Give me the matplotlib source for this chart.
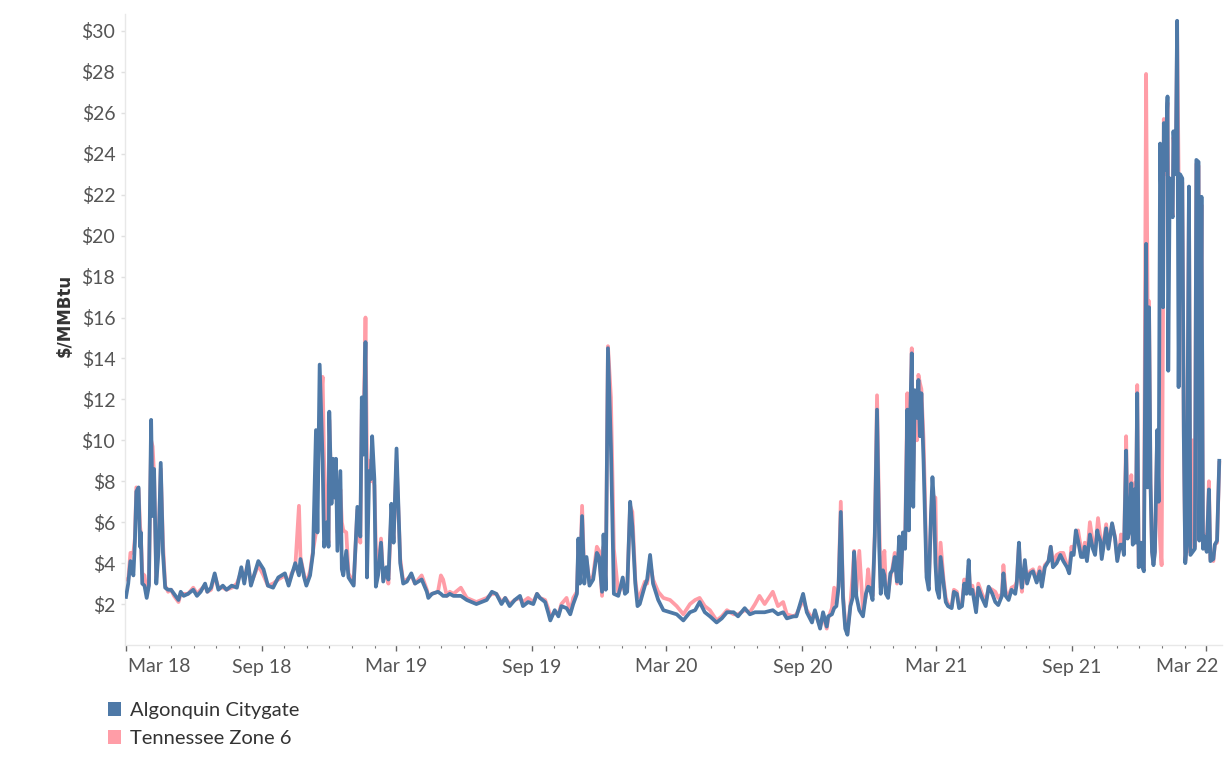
import matplotlib
matplotlib.use("Agg")
import matplotlib.pyplot as plt
import matplotlib.dates as mdates
import matplotlib.transforms as mtransforms
from matplotlib.patches import Patch
import pandas as pd

plt.rcParams["font.family"] = ["Lato", "DejaVu Sans"]

start_date = pd.Timestamp("2018-03-01")

# daily gas prices ($/MMBtu), days counted from 1 Mar 2018
days_since_start = [
    0, 3, 6, 10, 12, 14, 17, 19, 20, 22, 25, 28, 31, 34, 36, 38, 41, 44, 47, 50,
    53, 57, 61, 65, 69, 71, 74, 78, 84, 91, 96, 101, 107, 110, 115, 120, 125, 131, 136, 143,
    150, 156, 160, 165, 169,
    179, 186, 192, 199, 206, 215, 220, 224, 229, 234, 236, 241, 244, 249, 253,
    257, 259, 262, 266, 268, 272, 274, 275, 278, 280, 283, 284, 286, 290, 292,
    294, 298, 301, 308, 313, 317, 319, 321, 324, 326, 329, 331, 333, 336, 338,
    341, 345, 348, 352, 355, 359, 362, 366, 371, 375, 380, 386, 391, 400, 407,
    409, 414, 422, 426, 429, 434, 438,
    443, 453, 461, 474, 488, 495, 501, 508, 513, 519, 526, 533, 537, 544, 551,
    556, 560, 567, 571, 574, 580, 585, 589, 596, 601, 605, 610, 612, 614, 617,
    620, 623, 627, 632, 637, 640, 644, 646, 649, 652, 656, 660, 666, 672, 675,
    678, 682, 685, 689, 692, 695, 702, 705, 709, 713, 720,
    727, 736, 745, 754, 763, 770, 776, 783, 790, 799, 806, 813, 822, 828, 837,
    844, 851, 857, 864, 875, 882, 889, 894, 903, 907, 916, 921, 928, 932, 939,
    943, 948,
    950, 955, 958, 961, 964, 967, 970, 973, 976, 980, 983, 985, 988, 992, 997,
    1001, 1004, 1006, 1010, 1013, 1016, 1019, 1021, 1024, 1026, 1028, 1031, 1034, 1037, 1040,
    1043, 1046, 1048, 1051, 1054, 1057, 1059, 1061, 1063, 1065, 1067, 1070, 1072, 1074, 1076,
    1079, 1081, 1083, 1086, 1089, 1091, 1093, 1095, 1097, 1100, 1102, 1106, 1109, 1112, 1117,
    1120, 1124, 1127, 1131, 1134, 1137, 1140, 1142, 1145, 1150, 1153, 1158, 1163, 1167, 1172,
    1176, 1180, 1185, 1187, 1190, 1194, 1198, 1203, 1205, 1208, 1210, 1212, 1216, 1219, 1223,
    1227, 1232, 1236, 1239, 1243, 1248, 1251, 1254, 1259, 1264, 1268, 1273, 1276, 1279, 1282,
    1285, 1288, 1292, 1295, 1297, 1300, 1304, 1308, 1311, 1314, 1315, 1318, 1320, 1326, 1329,
    1334, 1338, 1341, 1345, 1346, 1348, 1350, 1353, 1355, 1357,
    1360, 1362, 1364, 1366, 1368, 1370, 1373, 1375, 1377, 1380, 1382, 1384, 1386, 1388, 1390,
    1392, 1395, 1397, 1399, 1401, 1403, 1404, 1406, 1409, 1410, 1412, 1414, 1416, 1417, 1420,
    1422, 1424, 1426, 1429, 1431, 1433, 1435, 1438, 1440, 1443, 1446, 1448, 1451, 1452, 1455,
    1457, 1459, 1462, 1465, 1467, 1471, 1473, 1476, 1479,
]

algonquin = [
    2.35, 3.0, 4.1, 3.4, 5.0, 7.5, 7.7, 4.8, 5.5, 3.0, 2.9, 2.3, 2.9, 11.0, 6.3, 8.6, 3.0, 4.6, 8.9, 4.5,
    2.8, 2.7, 2.7, 2.5, 2.3, 2.2, 2.6, 2.4, 2.5, 2.7, 2.4, 2.6, 3.0, 2.6, 2.8, 3.5, 2.7, 2.9, 2.7, 2.9,
    2.8, 3.8, 3.0, 4.1, 2.9,
    4.1, 3.7, 2.9, 2.8, 3.3, 3.5, 2.9, 3.4, 4.0, 3.4, 4.2, 3.3, 2.9, 3.4, 4.5,
    10.5, 5.5, 13.7, 9.0, 4.8, 6.0, 4.8, 11.4, 6.9, 9.1, 7.2, 9.1, 4.6, 8.5, 3.7,
    3.4, 4.6, 3.3, 2.9, 6.75, 5.3, 12.1, 9.3, 14.8, 3.3, 8.5, 8.1, 10.2, 8.1, 2.85,
    3.4, 5.0, 3.1, 3.8, 3.2, 6.9, 5.0, 9.6, 4.0, 3.0, 3.1, 3.5, 3.0, 3.2, 2.6,
    2.3, 2.5, 2.6, 2.5, 2.4, 2.4, 2.5,
    2.4, 2.4, 2.2, 2.0, 2.2, 2.6, 2.5, 2.0, 2.3, 1.9, 2.2, 2.4, 1.9, 2.1, 2.0,
    2.5, 2.3, 2.1, 1.6, 1.2, 1.7, 1.4, 1.9, 1.8, 1.5, 2.0, 2.5, 5.2, 3.0, 6.3,
    3.0, 4.3, 2.9, 3.2, 4.5, 4.3, 2.6, 5.4, 2.7, 14.5, 9.7, 2.5, 2.4, 3.3, 2.5,
    2.6, 7.0, 5.8, 3.0, 1.9, 2.0, 2.9, 3.2, 4.4, 3.0, 2.2,
    1.7, 1.6, 1.5, 1.2, 1.6, 1.7, 2.1, 1.6, 1.4, 1.1, 1.3, 1.6, 1.6, 1.4, 1.8,
    1.5, 1.6, 1.6, 1.6, 1.7, 1.5, 1.6, 1.3, 1.4, 1.4, 2.5, 1.6, 1.1, 1.7, 0.8,
    1.6, 0.9,
    1.4, 1.5, 1.8, 1.9, 2.85, 6.5, 2.3, 0.8, 0.5, 1.9, 2.3, 4.55, 2.4, 1.7, 1.4,
    2.5, 2.85, 2.8, 2.2, 5.3, 11.5, 4.8, 2.5, 3.65, 3.4, 2.5, 2.3, 3.5, 3.65, 4.3,
    3.1, 5.3, 3.0, 5.5, 4.7, 11.5, 5.6, 11.3, 14.25, 6.75, 12.45, 11.1, 12.95, 10.2, 12.3,
    8.9, 6.1, 3.3, 2.7, 6.4, 8.2, 7.0, 4.0, 2.7, 2.3, 4.3, 3.0, 2.1, 1.9, 1.8,
    2.6, 2.5, 1.8, 1.9, 3.0, 2.5, 4.15, 2.5, 2.7, 1.6, 2.8, 2.3, 1.9, 2.85, 2.5,
    2.1, 1.95, 2.4, 3.5, 2.4, 2.2, 2.7, 2.5, 3.0, 5.0, 3.5, 2.8, 4.15, 3.0, 3.5,
    3.6, 3.05, 3.6, 2.85, 3.8, 4.1, 4.8, 3.8, 4.0, 4.4, 4.1, 3.8, 3.5, 4.5, 4.4,
    5.6, 5.1, 4.3, 4.3, 4.8, 4.1, 5.4, 4.7, 4.4, 5.6, 5.4, 5.1, 4.2, 5.7, 4.7,
    5.95, 5.2, 4.1, 4.9, 4.9, 4.9, 4.4, 9.5, 5.2, 5.5,
    7.9, 4.9, 7.6, 5.0, 12.3, 3.8, 5.0, 3.8, 3.6, 19.6, 7.7, 16.5, 7.9, 4.55, 3.9,
    4.55, 10.5, 7.0, 24.5, 20.6, 16.5, 25.5, 23.2, 26.8, 13.4, 22.8, 21.2, 20.9, 25.1, 23.0,
    30.5, 12.6, 23.0, 22.8, 10.2, 4.0, 4.9, 22.4, 4.4, 4.55, 4.7, 23.7, 23.6, 5.1, 21.9,
    4.7, 5.3, 4.55, 7.6, 4.1, 4.2, 4.9, 5.1, 9.0,
]

tennessee = [
    3.2, 3.2, 4.5, 4.5, 5.2, 7.7, 7.6, 5.8, 5.5, 3.5, 3.4, 2.5, 3.0, 10.0, 9.7, 8.3, 3.3, 5.0, 8.6, 5.0,
    2.9, 2.6, 2.7, 2.4, 2.2, 2.1, 2.5, 2.5, 2.5, 2.8, 2.5, 2.7, 2.9, 2.6, 2.7, 3.4, 2.8, 2.8, 2.7, 2.8,
    3.0, 3.6, 3.2, 4.0, 3.0,
    3.9, 3.4, 2.9, 3.0, 3.2, 3.4, 3.0, 3.5, 3.8, 6.8, 4.3, 3.4, 3.0, 3.6, 4.6,
    5.5, 8.0, 11.0, 13.1, 9.0, 5.5, 5.0, 11.0, 7.1, 8.7, 7.3, 9.0, 5.5, 7.6, 6.0,
    5.6, 5.5, 3.5, 3.0, 6.6, 5.0, 11.5, 10.0, 16.0, 9.0, 9.0, 8.0, 8.3, 7.8, 4.8,
    3.6, 5.2, 3.2, 3.6, 3.0, 6.5, 5.2, 9.0, 4.2, 3.1, 3.2, 3.4, 3.0, 3.4, 2.7,
    2.4, 2.5, 2.6, 3.4, 3.2, 2.4, 2.6,
    2.5, 2.8, 2.3, 2.1, 2.3, 2.5, 2.5, 2.1, 2.3, 2.0, 2.2, 2.3, 2.1, 2.3, 2.1,
    2.5, 2.3, 2.2, 1.8, 1.4, 1.6, 1.5, 2.0, 2.3, 1.6, 2.3, 2.6, 4.8, 3.2, 6.8,
    3.4, 4.2, 3.0, 3.4, 4.8, 4.6, 2.4, 4.8, 2.8, 14.6, 12.1, 4.7, 2.5, 3.0, 2.6,
    2.7, 6.8, 6.5, 3.2, 2.3, 2.4, 3.1, 3.0, 4.0, 3.2, 2.6,
    2.3, 2.2, 1.9, 1.5, 2.0, 2.2, 2.3, 1.9, 1.7, 1.2, 1.4, 1.7, 1.5, 1.5, 1.7,
    1.6, 2.0, 2.4, 2.0, 2.6, 1.9, 2.1, 1.5, 1.4, 1.5, 2.2, 1.7, 1.3, 1.6, 0.9,
    1.4, 0.8,
    1.3, 1.8, 2.8, 2.0, 3.0, 7.0, 2.5, 1.0, 0.6, 2.0, 3.4, 4.6, 2.6, 4.6, 1.7,
    2.4, 3.7, 3.0, 2.4, 5.5, 12.2, 6.0, 2.8, 4.0, 4.6, 2.7, 2.5, 3.3, 3.8, 4.5,
    3.0, 5.0, 3.1, 5.2, 5.0, 12.3, 6.0, 11.0, 14.5, 8.0, 12.0, 10.0, 13.2, 12.8, 12.5,
    10.0, 7.0, 3.6, 2.9, 6.0, 7.5, 7.2, 7.2, 3.0, 2.5, 5.0, 3.2, 2.3, 2.0, 1.9,
    2.7, 2.6, 1.9, 2.0, 3.2, 2.6, 3.9, 2.7, 2.9, 1.8, 3.0, 2.5, 2.1, 2.8, 2.7,
    2.6, 2.3, 2.5, 3.9, 2.6, 2.4, 2.8, 2.9, 3.1, 4.9, 3.3, 2.6, 4.0, 3.1, 3.6,
    3.7, 3.2, 3.8, 3.0, 3.9, 4.1, 4.8, 4.0, 4.4, 4.5, 4.5, 3.9, 3.6, 4.8, 4.5,
    5.4, 5.6, 4.7, 4.4, 5.0, 4.3, 6.0, 5.0, 4.6, 5.8, 6.2, 5.3, 4.4, 5.9, 4.8,
    5.9, 5.3, 4.2, 5.0, 5.4, 5.0, 4.5, 10.2, 5.5, 5.6,
    8.3, 5.0, 7.9, 5.1, 12.7, 3.9, 5.0, 3.9, 3.7, 27.9, 16.8, 16.8, 8.0, 4.6, 4.0,
    4.6, 10.2, 7.0, 5.0, 3.9, 16.5, 25.7, 23.0, 26.5, 22.5, 22.7, 21.3, 21.0, 24.8, 23.0,
    30.0, 23.0, 22.9, 22.6, 10.5, 4.1, 5.0, 22.0, 4.5, 10.0, 4.8, 23.5, 23.4, 5.2, 21.5,
    4.8, 5.4, 4.6, 8.0, 4.2, 4.1, 4.9, 5.0, 8.9,
]

series_names = ["Algonquin Citygate", "Tennessee Zone 6"]
series_colors = ["#4e79a7", "#ff9da7"]

dates = start_date + pd.to_timedelta(days_since_start, unit="D")

fig = plt.figure(figsize=(12.29, 7.70), dpi=100)
ax = fig.add_axes([125 / 1229, 1 - 645 / 770, (1222 - 125) / 1229, (645 - 14) / 770])

ax.plot(dates, tennessee, color=series_colors[1], lw=2.7, solid_joinstyle="round", zorder=2)
ax.plot(dates, algonquin, color=series_colors[0], lw=2.7, solid_joinstyle="round", zorder=3)

ax.set_xlim(start_date - pd.Timedelta(days=1.35), start_date + pd.Timedelta(days=1482.7))
ax.set_ylim(0, 30.83)

for side in ["top", "right"]:
    ax.spines[side].set_visible(False)
for side in ["left", "bottom"]:
    ax.spines[side].set_color("#e8e8e8")
    ax.spines[side].set_linewidth(1.0)

# y axis
ax.set_yticks(range(2, 31, 2))
ax.set_yticklabels([f"${v}" for v in range(2, 31, 2)])
ax.tick_params(axis="y", length=3, width=1, color="#e0e0e0", pad=4,
               labelsize=14, labelcolor="#555555")

# x axis: monthly minor ticks, Mar/Sep major ticks, labels drawn by hand
ax.xaxis.set_major_locator(mdates.MonthLocator(bymonth=[3, 9]))
ax.xaxis.set_minor_locator(mdates.MonthLocator())
ax.tick_params(axis="x", which="major", length=4, width=1, color="#666666", labelbottom=False)
ax.tick_params(axis="x", which="minor", length=2, width=0.8, color="#777777")

major_dates = pd.date_range("2018-03-01", "2022-03-01", freq="6MS")
for i, d in enumerate(major_dates):
    ha, dx = "center", 0
    if i == 0:
        ha, dx = "left", 2
    elif i == len(major_dates) - 1:
        ha, dx = "center", -19
    tr = mtransforms.offset_copy(ax.get_xaxis_transform(), fig=fig, x=dx, y=-22, units="dots")
    ax.text(d, 0, d.strftime("%b %y"), transform=tr, ha=ha, va="center",
            fontsize=14, color="#555555")

fig.text(64.5 / 1229, 1 - 315 / 770, "$/MMBtu", rotation=90, ha="center", va="center",
         fontsize=12, fontweight="bold", color="#333333", family="DejaVu Sans")

handles = [Patch(facecolor=c, edgecolor="none") for c in series_colors]
fig.legend(handles, series_names, loc="upper left", bbox_to_anchor=(108 / 1229, 1 - 702 / 770),
           frameon=False, fontsize=14.5, handlelength=0.65, handleheight=0.65,
           handletextpad=0.45, labelspacing=0.55, borderaxespad=0, borderpad=0,
           labelcolor="#333333")

fig.savefig("out.png", dpi=100)
